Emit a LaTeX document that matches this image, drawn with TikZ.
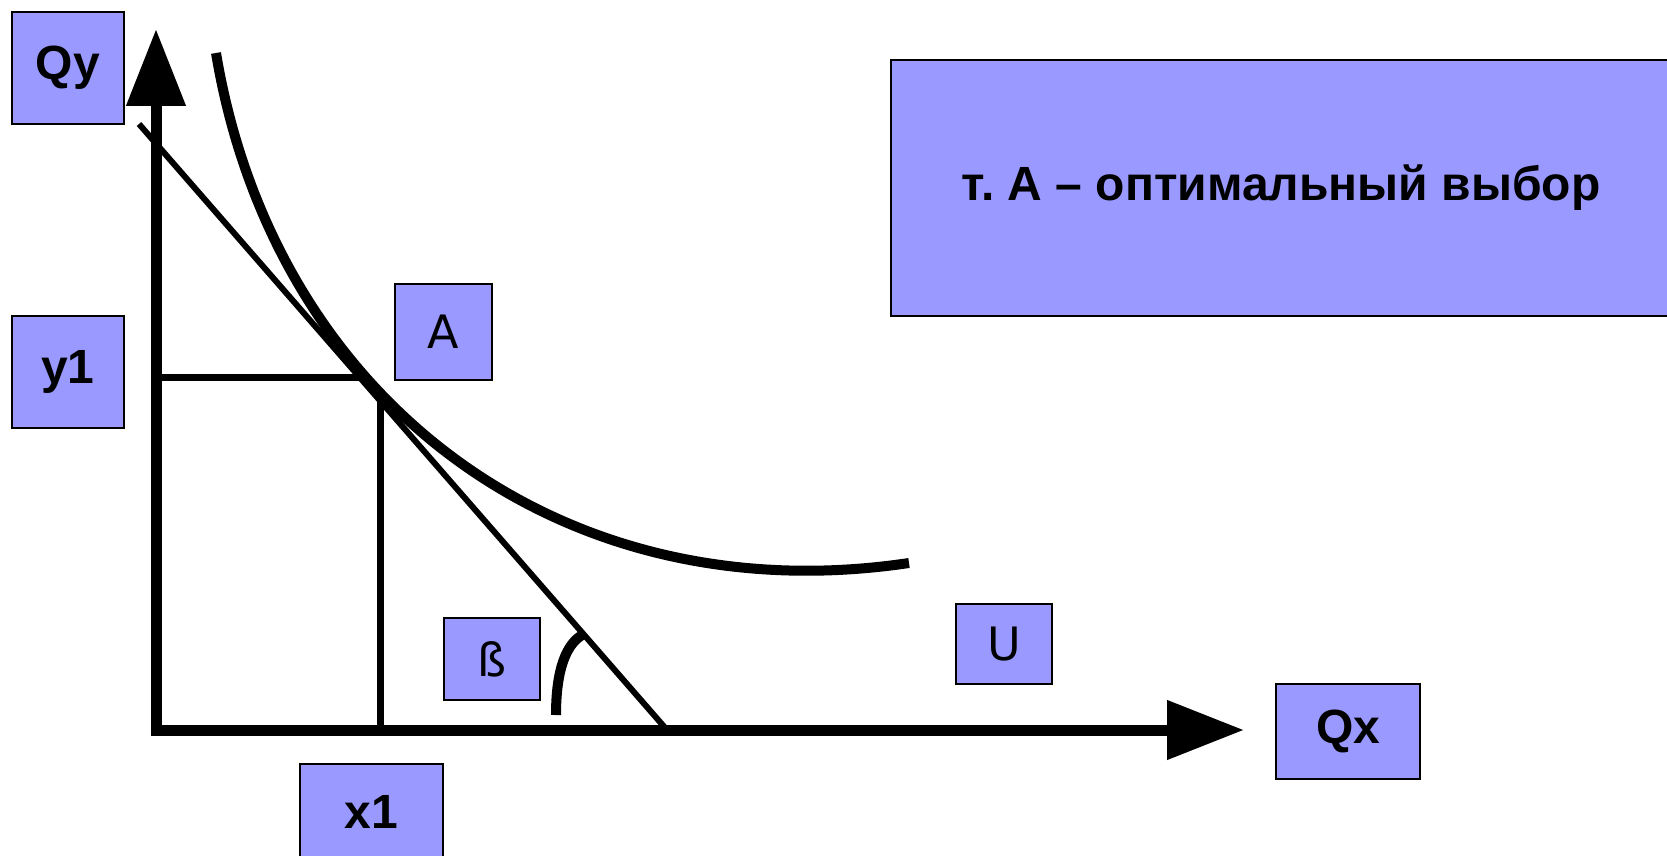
\documentclass[tikz,border=0pt]{standalone}
\usepackage{fontspec}
\setmainfont{Liberation Sans}
\newfontfamily\dejavu{DejaVu Sans}
\usetikzlibrary{arrows.meta}
\definecolor{boxblue}{HTML}{9999FF}
\frenchspacing
\tikzset{
  lbl/.style={draw=black, line width=2pt, fill=boxblue, inner sep=0pt, anchor=center,
    font=\fontsize{48}{58}\selectfont\bfseries},
  lblr/.style={lbl, font=\fontsize{46}{56}\selectfont\dejavu},
  axis/.style={line width=11pt, -{Triangle[length=77pt,width=57pt]}},
  thinline/.style={line width=6pt},
  guide/.style={line width=7pt},
  curve/.style={line width=10pt},
  anglearc/.style={line width=10pt}
}
\begin{document}
\begin{tikzpicture}[x=1pt,y=-1pt]
\useasboundingbox (0,0) rectangle (1667,856);
% labels
\node[lbl, minimum width=112pt, minimum height=112pt] (qy) at (68,68) {Qy};
\node[lbl, minimum width=112pt, minimum height=112pt] (y1) at (68,372) {y1};
\node[lblr, minimum width=97pt, minimum height=96pt] (a) at (443.5,332) {A};
\node[lblr, minimum width=96pt, minimum height=82pt] (beta) at (492,659) {ß};
\node[lblr, minimum width=96pt, minimum height=80pt] (u) at (1004,644) {U};
\node[lbl, minimum width=144pt, minimum height=95pt] (qx) at (1348,731.5) {Qx};
\node[lbl, minimum width=143pt, minimum height=96pt] (x1) at (371.5,812) {x1};
\node[lbl, minimum width=780pt, minimum height=256pt] (title) at (1281,188) {т. А – оптимальный выбор};
% axes
\coordinate (O) at (156,731);
\coordinate (Ox) at (151,730);
\coordinate (ytip) at (156,29);
\coordinate (xtip) at (1244,730);
\draw[axis] (O) -- (ytip);
\draw[axis] (Ox) -- (xtip);
% budget line
\coordinate (b1) at (139,124);
\coordinate (b2) at (667,730);
\draw[thinline] (b1) -- (b2);
% guides to point A
\coordinate (ya) at (156,377);
\coordinate (ha) at (361,377);
\coordinate (va) at (380,396);
\coordinate (xa) at (380,730);
\draw[guide] (ya) -- (ha);
\draw[guide] (va) -- (xa);
% indifference curve
\coordinate (c0) at (216,53);
\coordinate (c3) at (909,563);
\draw[curve] (c0) .. controls (274,400) and (560,615) .. (c3);
% angle arc
\coordinate (r0) at (556,715);
\coordinate (r1) at (584,634);
\draw[anglearc] (r0) .. controls (556,670) and (566,643) .. (r1);
\end{tikzpicture}
\end{document}
